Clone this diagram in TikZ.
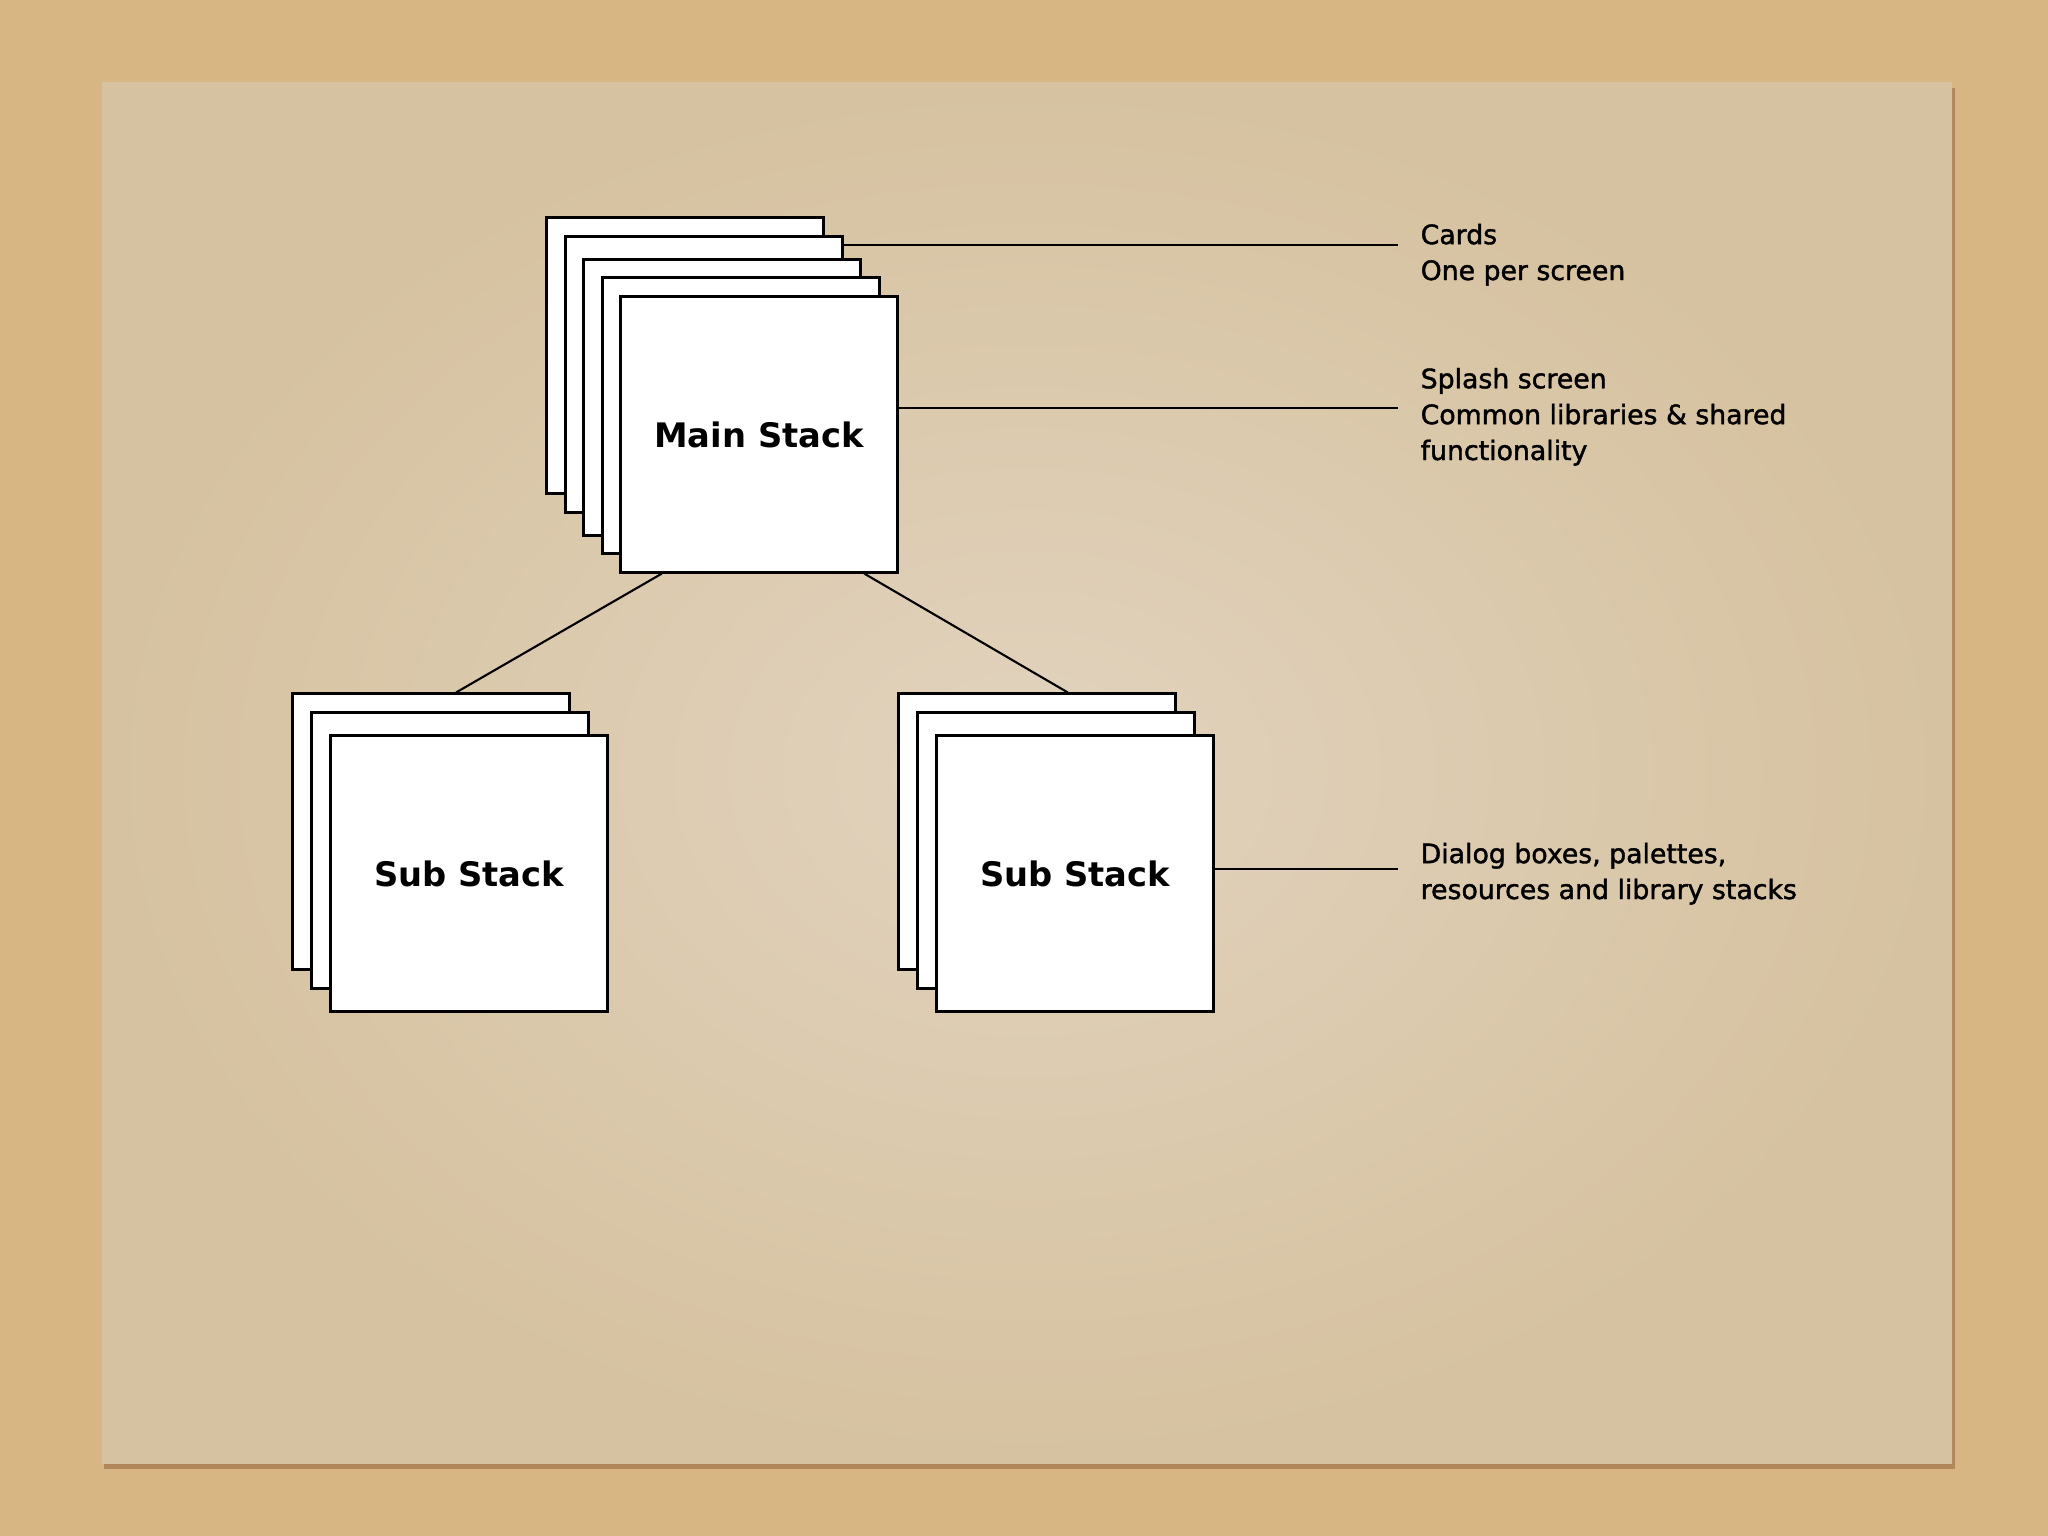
\documentclass[tikz,border=0pt]{standalone}
\usepackage{fontspec}
\setmainfont{DejaVu Sans}
\newfontfamily\notefont[FakeBold=1.5]{DejaVu Sans}
\usetikzlibrary{calc}
\definecolor{cork}{RGB}{216,182,132}
\definecolor{paperlight}{RGB}{226,211,190}
\definecolor{paperdark}{RGB}{214,194,160}
\definecolor{papershadow}{RGB}{176,134,90}

\begin{document}
\begin{tikzpicture}[x=0.01cm, y=-0.01cm,
    card/.style={draw, fill=white, line width=0.85pt, minimum width=2.76cm,
        minimum height=2.75cm, inner sep=0pt,
        font=\fontsize{9.6pt}{11pt}\selectfont\bfseries},
    link/.style={line width=0.6pt},
    note/.style={anchor=base west, align=left, inner sep=0pt,
        font=\notefont\fontsize{7.6pt}{10.2pt}\selectfont}]

    % Board and paper
    \useasboundingbox (0,0) rectangle (2048,1536);
    \fill[cork] (0,0) rectangle (2048,1536);
    \fill[papershadow] (104,88) rectangle (1955,1469);
    \shade[inner color=paperlight, outer color=paperdark] (102,82) rectangle (1952,1463);

    % Main stack
    \node[card] (m1) at (685,355.5) {};
    \node[card] (m2) at (704,374.5) {};
    \node[card] (m3) at (722,397.5) {};
    \node[card] (m4) at (741,415.5) {};
    \node[card] (m5) at (759,434.5) {Main Stack};

    % Sub stacks
    \node[card] (l1) at (431,831.5) {};
    \node[card] (l2) at (450,850.5) {};
    \node[card] (l3) at (469,873.5) {Sub Stack};

    \node[card] (r1) at (1037,831.5) {};
    \node[card] (r2) at (1056,850.5) {};
    \node[card] (r3) at (1075,873.5) {Sub Stack};

    % Links between stacks
    \draw[link] ($(m5.south west)!0.152!(m5.south east)$) -- ($(l1.north west)!0.59!(l1.north east)$);
    \draw[link] ($(m5.south west)!0.877!(m5.south east)$) -- ($(r1.north west)!0.61!(r1.north east)$);

    % Notes (anchored at the baseline of their last line)
    \coordinate (cardsend) at (1398,245);
    \coordinate (splashend) at (1398,408);
    \coordinate (dialogend) at (1398,869);
    \draw[link] (cardsend -| m2.east) -- (cardsend);
    \draw[link] (splashend -| m5.east) -- (splashend);
    \draw[link] (dialogend -| r3.east) -- (dialogend);

    \node[note] (cards) at (1420,280) {Cards\\One per screen};
    \node[note] (splash) at (1420,460) {Splash screen\\Common libraries \& shared\\functionality};
    \node[note] (dialog) at (1420,899) {Dialog boxes, palettes,\\resources and library stacks};
\end{tikzpicture}
\end{document}
